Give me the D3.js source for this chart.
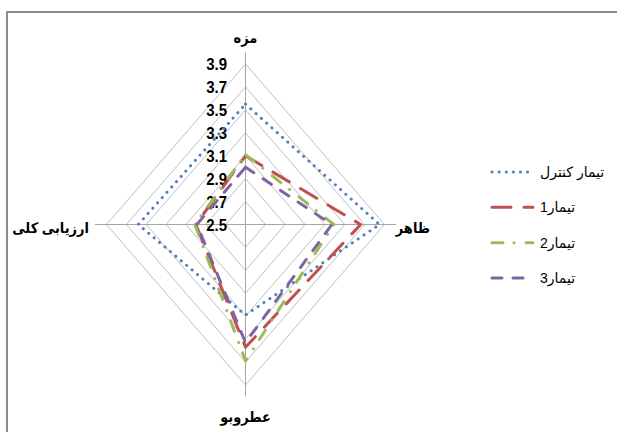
<!DOCTYPE html>
<html>
<head>
<meta charset="utf-8">
<script src="https://cdn.jsdelivr.net/npm/d3@7"></script>
<style>
  html, body { margin: 0; padding: 0; background: #fff; }
  svg { display: block; }
</style>
</head>
<body>
<svg id="chart" width="617" height="432"></svg>
<script>
// Axes of the radar, clockwise from the top
const categories = ["مزه", "ظاهر", "عطروبو", "ارزیابی کلی"];

// Series values per axis (same order as categories)
const seriesNames = ["تیمار کنترل", "تیمار1", "تیمار2", "تیمار3"];
const controlValues = [3.55, 3.85, 3.29, 3.58];
const t1Values = [3.10, 3.66, 3.57, 3.00];
const t2Values = [3.11, 3.39, 3.69, 3.01];
const t3Values = [3.00, 3.37, 3.53, 2.99];

// Radial tick values and their labels
const tickValues = [2.5, 2.7, 2.9, 3.1, 3.3, 3.5, 3.7, 3.9];
const tickLabels = ["2.5", "2.7", "2.9", "3.1", "3.3", "3.5", "3.7", "3.9"];

const svg = d3.select("#chart");

// Outer frame (only top and left edges fall inside the view)
svg.append("rect")
  .attr("x", 7).attr("y", 12)
  .attr("width", 800).attr("height", 600)
  .attr("fill", "none")
  .attr("stroke", "#8c8c8c")
  .attr("stroke-width", 2);

const cx = 245.5, cy = 224.5;
const RX = 139, RY = 160.5;   // plot is drawn slightly taller than wide
const ext = 11.5;             // axis spokes reach past the outer ring

const r = d3.scaleLinear().domain([2.5, 3.9]).range([0, 1]);
const angle = d3.scalePoint().domain(d3.range(categories.length)).range([0, 2 * Math.PI * (categories.length - 1) / categories.length]);

function pt(i, v) {
  const a = angle(i);
  const k = r(v);
  return [cx + Math.sin(a) * k * RX, cy - Math.cos(a) * k * RY];
}

const lineGen = d3.line().curve(d3.curveLinearClosed);

// Grid rings
const grid = svg.append("g");
tickValues.slice(1).forEach(v => {
  grid.append("path")
    .attr("d", lineGen(categories.map((c, i) => pt(i, v))))
    .attr("fill", "none")
    .attr("stroke", "#bfbfbf")
    .attr("stroke-width", 1);
});

// Spokes
categories.forEach((c, i) => {
  const a = angle(i);
  grid.append("line")
    .attr("x1", cx).attr("y1", cy)
    .attr("x2", cx + Math.sin(a) * (RX + ext))
    .attr("y2", cy - Math.cos(a) * (RY + ext))
    .attr("stroke", "#a6a6a6")
    .attr("stroke-width", 1);
});

// Radial tick labels along the upper spoke
const ticks = svg.append("g");
tickValues.forEach((v, j) => {
  const p = pt(0, v);
  ticks.append("text")
    .attr("transform", `translate(${cx - 18.5},${p[1]}) scale(1,1.15)`)
    .attr("text-anchor", "end")
    .attr("dy", "0.36em")
    .attr("font-family", "'Liberation Sans', Arial, sans-serif")
    .attr("font-weight", "bold")
    .attr("font-size", 15)
    .attr("fill", "#000")
    .text(tickLabels[j]);
});

// Category titles
const titlePos = [
  { x: cx, y: 38, anchor: "middle" },
  { x: 430, y: 228, anchor: "end" },
  { x: cx, y: 417, anchor: "middle" },
  { x: 89, y: 228, anchor: "end" }
];
categories.forEach((c, i) => {
  svg.append("text")
    .attr("transform", `translate(${titlePos[i].x},${titlePos[i].y}) scale(1,1.12)`)
    .attr("dy", "0.35em")
    .attr("text-anchor", titlePos[i].anchor)
    .attr("font-family", "Arial, 'DejaVu Sans', sans-serif")
    .attr("font-weight", "bold")
    .attr("font-size", 13)
    .attr("fill", "#000")
    .text(c);
});

// Series styling
const series = [
  { name: seriesNames[0], values: controlValues, color: "#4f81bd", dash: "0.1 7" },
  { name: seriesNames[1], values: t1Values, color: "#c0504d", dash: "19 13" },
  { name: seriesNames[2], values: t2Values, color: "#9bbb59", dash: "11 11 0.1 12" },
  { name: seriesNames[3], values: t3Values, color: "#8064a2", dash: "10 11" }
];

const plot = svg.append("g");
series.forEach(s => {
  plot.append("path")
    .attr("d", lineGen(s.values.map((v, i) => pt(i, v))))
    .attr("fill", "none")
    .attr("stroke", s.color)
    .attr("stroke-width", 3)
    .attr("stroke-linecap", "round")
    .attr("stroke-linejoin", "round")
    .attr("stroke-dasharray", s.dash);
});

// Legend
const legend = svg.append("g");
const legendY = d3.scaleLinear().domain([0, 3]).range([172, 278]);
series.forEach((s, i) => {
  const y = legendY(i);
  legend.append("line")
    .attr("x1", 492).attr("x2", 533)
    .attr("y1", y).attr("y2", y)
    .attr("stroke", s.color)
    .attr("stroke-width", 3)
    .attr("stroke-linecap", "round")
    .attr("stroke-dasharray", s.dash);
  legend.append("text")
    .attr("x", 540).attr("y", y)
    .attr("dy", "0.35em")
    .attr("text-anchor", "start")
    .attr("font-family", "Arial, 'DejaVu Sans', sans-serif")
    .attr("font-size", 14)
    .attr("fill", "#000")
    .text(s.name);
});
</script>
</body>
</html>
